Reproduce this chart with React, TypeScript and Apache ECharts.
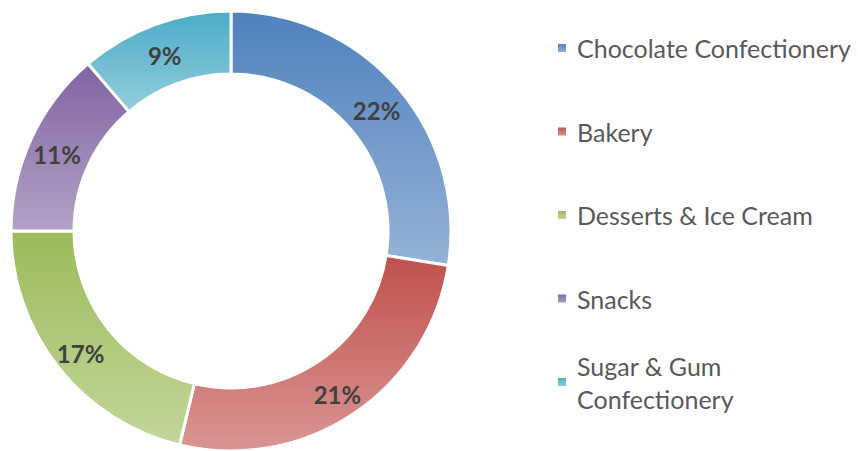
import React, { useEffect, useRef } from "react";
import * as echarts from "echarts";

const categories = [
  "Chocolate Confectionery",
  "Bakery",
  "Desserts & Ice Cream",
  "Snacks",
  "Sugar & Gum Confectionery",
];
const values = [22, 21, 17, 11, 9];
const topColors = ["#4F81BD", "#C0504D", "#9BBB59", "#8064A2", "#4BACC6"];
const bottomColors = ["#95B3D7", "#D99694", "#C3D69B", "#B3A2C7", "#93CDDD"];

const LINE = 33;
const FONT = "Lato, 'Open Sans', sans-serif";

export default function App() {
  const ref = useRef<HTMLDivElement>(null);
  useEffect(() => {
    if (!ref.current) return;
    const chart = echarts.init(ref.current, null, { renderer: "svg" });
    const grad = (i: number) =>
      new echarts.graphic.LinearGradient(0, 0, 0, 1, [
        { offset: 0, color: topColors[i] },
        { offset: 1, color: bottomColors[i] },
      ]);
    const legendText = {
      fontFamily: FONT,
      fontSize: 25,
      color: "#595959",
      lineHeight: LINE,
      padding: [0, 0, 0, 5],
    };
    chart.setOption({
      animation: false,
      backgroundColor: "#ffffff",
      legend: [
        {
          orient: "vertical",
          left: 556,
          top: 48 - LINE / 2,
          padding: 0,
          itemWidth: 10,
          itemHeight: 10,
          itemGap: 83.5 - LINE,
          icon: "rect",
          data: categories.slice(0, 4),
          textStyle: legendText,
        },
        {
          orient: "vertical",
          left: 556,
          top: 382 - 1.5 * LINE,
          padding: 0,
          itemWidth: 10,
          itemHeight: 10,
          icon: "rect",
          data: [
            {
              name: categories[4],
              textStyle: { ...legendText, padding: [LINE, 0, 0, 5] },
            },
          ],
          formatter: () => "Sugar & Gum\nConfectionery",
          textStyle: legendText,
        },
      ],
      series: [
        {
          type: "pie",
          center: [231, 231],
          radius: [157, 220],
          startAngle: 90,
          clockwise: true,
          avoidLabelOverlap: false,
          itemStyle: { borderColor: "#ffffff", borderWidth: 3 },
          label: {
            show: true,
            position: "inside",
            offset: [0, 4],
            formatter: (p: any) => `${p.value}%`,
            fontFamily: FONT,
            fontWeight: "bold",
            fontSize: 24,
            color: "#404040",
          },
          labelLine: { show: false },
          emphasis: { disabled: true },
          data: categories.map((name, i) => ({
            name,
            value: values[i],
            itemStyle: { color: grad(i) },
          })),
        },
      ],
    });
    return () => chart.dispose();
  }, []);
  return (
    <div
      ref={ref}
      style={{ position: "fixed", left: 0, top: 0, width: 858, height: 451 }}
    />
  );
}
